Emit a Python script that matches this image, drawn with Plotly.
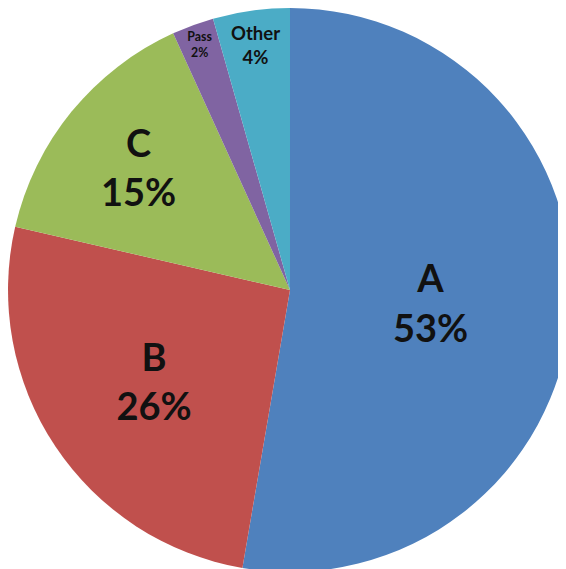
import plotly.graph_objects as go

labels = ["A", "B", "C", "Pass", "Other"]
values = [52.7, 25.9, 14.6, 2.4, 4.4]
colors = ["#4F81BD", "#C0504D", "#9BBB59", "#8064A2", "#4BACC6"]
text_sizes = [38, 38, 38, 19, 22]

fig = go.Figure(go.Pie(
    labels=labels,
    values=values,
    sort=False,
    direction="clockwise",
    rotation=0,
    marker=dict(colors=colors, line=dict(width=0)),
    texttemplate="<b>%{label}</b><br><b>%{percent:.0%}</b>",
    textposition="inside",
    insidetextorientation="horizontal",
    textfont=dict(family="Lato", size=text_sizes, color="#111111"),
    hoverinfo="label+percent",
    showlegend=False,
    domain=dict(x=[0.0, 0.9965], y=[0.0088, 1.0]),
))

fig.update_layout(
    width=566,
    height=569,
    margin=dict(l=0, r=0, t=0, b=0),
    paper_bgcolor="white",
    plot_bgcolor="white",
)

fig.write_html("out.html")
